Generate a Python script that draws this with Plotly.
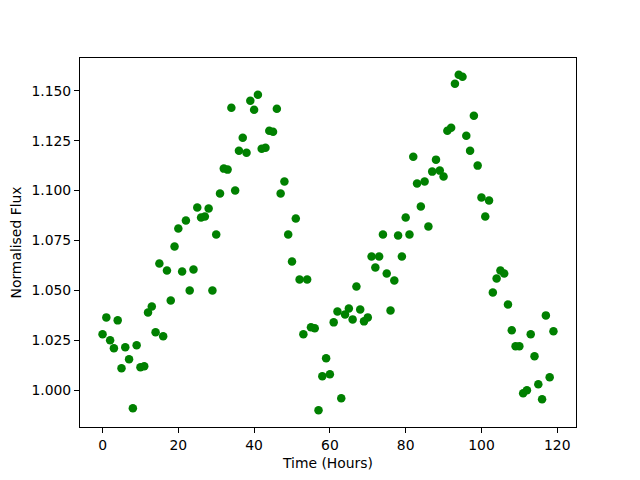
import plotly.graph_objects as go

hours = list(range(120))
flux = [
    1.028, 1.0365, 1.025, 1.021, 1.035, 1.011, 1.0215, 1.0155, 0.991, 1.0225,
    1.0115, 1.012, 1.039, 1.042, 1.029, 1.0635, 1.027, 1.060, 1.045, 1.072,
    1.081, 1.0595, 1.085, 1.050, 1.0605, 1.0915, 1.0865, 1.087, 1.091, 1.050,
    1.078, 1.0985, 1.111, 1.1105, 1.1415, 1.100, 1.120, 1.1265, 1.119, 1.145,
    1.1405, 1.148, 1.121, 1.1215, 1.130, 1.1295, 1.141, 1.0985, 1.1045, 1.078,
    1.0645, 1.086, 1.0555, 1.028, 1.0555, 1.0315, 1.031, 0.990, 1.007, 1.016,
    1.008, 1.034, 1.0395, 0.996, 1.038, 1.041, 1.0355, 1.052, 1.0405, 1.0345,
    1.0365, 1.067, 1.0615, 1.067, 1.078, 1.0585, 1.040, 1.055, 1.0775, 1.067,
    1.0865, 1.078, 1.117, 1.1035, 1.092, 1.1045, 1.082, 1.1095, 1.1155, 1.110,
    1.107, 1.130, 1.1315, 1.1535, 1.158, 1.157, 1.1275, 1.120, 1.1375, 1.1125,
    1.0965, 1.087, 1.095, 1.049, 1.056, 1.060, 1.0585, 1.043, 1.030, 1.022,
    1.022, 0.9985, 1.000, 1.028, 1.017, 1.003, 0.9955, 1.0375, 1.0065, 1.0295,
]

x_ticks = [0, 20, 40, 60, 80, 100, 120]
y_ticks = [1.000, 1.025, 1.050, 1.075, 1.100, 1.125, 1.150]

fig = go.Figure(
    go.Scatter(
        x=hours, y=flux, mode="markers",
        marker=dict(color="#008000", size=8.5, line=dict(width=0)),
    )
)

axis_common = dict(
    showline=True, linecolor="black", linewidth=1, mirror=True,
    ticks="outside", ticklen=5, tickwidth=1, tickcolor="black",
    showgrid=False, zeroline=False, automargin=False,
    tickfont=dict(family="DejaVu Sans", size=13.9, color="black"),
)

xmin, xmax = min(hours), max(hours)
ymin, ymax = min(flux), max(flux)
xpad = (xmax - xmin) * 0.05
ypad = (ymax - ymin) * 0.05

fig.update_xaxes(
    **axis_common,
    range=[xmin - xpad, xmax + xpad],
    tickvals=x_ticks, ticktext=[str(v) for v in x_ticks],
    title=dict(text="Time (Hours)", font=dict(family="DejaVu Sans", size=13.9, color="black"), standoff=6),
)
fig.update_yaxes(
    **axis_common,
    range=[ymin - ypad, ymax + ypad],
    tickvals=y_ticks, ticktext=[f"{v:.3f}" for v in y_ticks],
    title=dict(text="Normalised Flux", font=dict(family="DejaVu Sans", size=13.9, color="black"), standoff=6),
)

# page body adds an 8px offset; shrink figure so the axes land where the reference has them
fig.update_layout(
    width=632, height=472, autosize=False,
    margin=dict(l=72, r=64, t=50, b=53, pad=0),
    plot_bgcolor="white", paper_bgcolor="white",
    showlegend=False,
)

fig.write_html("out.html")
